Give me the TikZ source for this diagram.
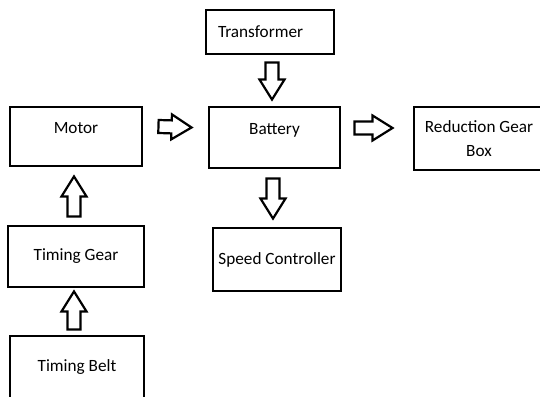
\documentclass[tikz,border=0pt]{standalone}
\usepackage{fontspec}
\setmainfont{Carlito}
\usetikzlibrary{calc}

\begin{document}
\begin{tikzpicture}[x=1pt,y=-1pt,font=\fontsize{17.2}{24}\selectfont,
  blk/.style={draw,line width=2.9pt,inner sep=0pt,align=center},
  barrow/.style={line width=2.2pt,line join=miter,to path={
    let \p1=($(\tikztotarget)!20pt!(\tikztostart)$) in
    ($(\tikztostart)!6.5pt!90:(\tikztotarget)$) -- ($(\p1)!6.5pt!90:(\tikztotarget)$)
    -- ($(\p1)!12.5pt!90:(\tikztotarget)$) -- (\tikztotarget)
    -- ($(\p1)!12.5pt!-90:(\tikztotarget)$) -- ($(\p1)!6.5pt!-90:(\tikztotarget)$)
    -- ($(\tikztostart)!6.5pt!-90:(\tikztotarget)$) -- cycle}},
  hi/.style={text depth=18pt}]
  \useasboundingbox (0,0) rectangle (540,396);

  % Blocks (centres at picture coordinates)
  \node[blk,minimum width=128pt,minimum height=44pt,
    inner xsep=12pt,text width=104pt,align=left] (trans) at (270,32) {Transformer};
  \node[blk,hi,minimum width=132pt,minimum height=59pt] (motor) at (76,136.5) {Motor};
  \node[blk,hi,minimum width=131pt,minimum height=61pt] (bat) at (274.5,137.5) {Battery};
  \node[blk,minimum width=130pt,minimum height=63pt] (red) at (479,138.5) {Reduction Gear\\Box};
  \node[blk,minimum width=136pt,minimum height=61pt] (tg) at (76,256.5) {Timing Gear};
  \node[blk,minimum width=128pt,minimum height=63pt] (sc) at (277,259.5) {Speed Controller};
  \node[blk,minimum width=134pt,minimum height=62pt] (tb) at (77,367) {Timing Belt};

  % Block arrows
  \draw[barrow] ([shift={(15pt,10pt)}]motor.east) to ([shift={(-16pt,10pt)}]bat.west);
  \draw[barrow] ([shift={(2pt,-7pt)}]trans.south) to ([shift={(-2.5pt,6pt)}]bat.north);
  \draw[barrow] ([shift={(13pt,9.5pt)}]bat.east) to ([shift={(-20pt,10.5pt)}]red.west);
  \draw[barrow] ([shift={(-1.5pt,-9pt)}]bat.south) to ([shift={(-4pt,8pt)}]sc.north);
  \draw[barrow] ([shift={(-2pt,8pt)}]tg.north) to ([shift={(-2pt,-9pt)}]motor.south);
  \draw[barrow] ([shift={(-3pt,5pt)}]tb.north) to ([shift={(-2pt,-3pt)}]tg.south);
\end{tikzpicture}
\end{document}
